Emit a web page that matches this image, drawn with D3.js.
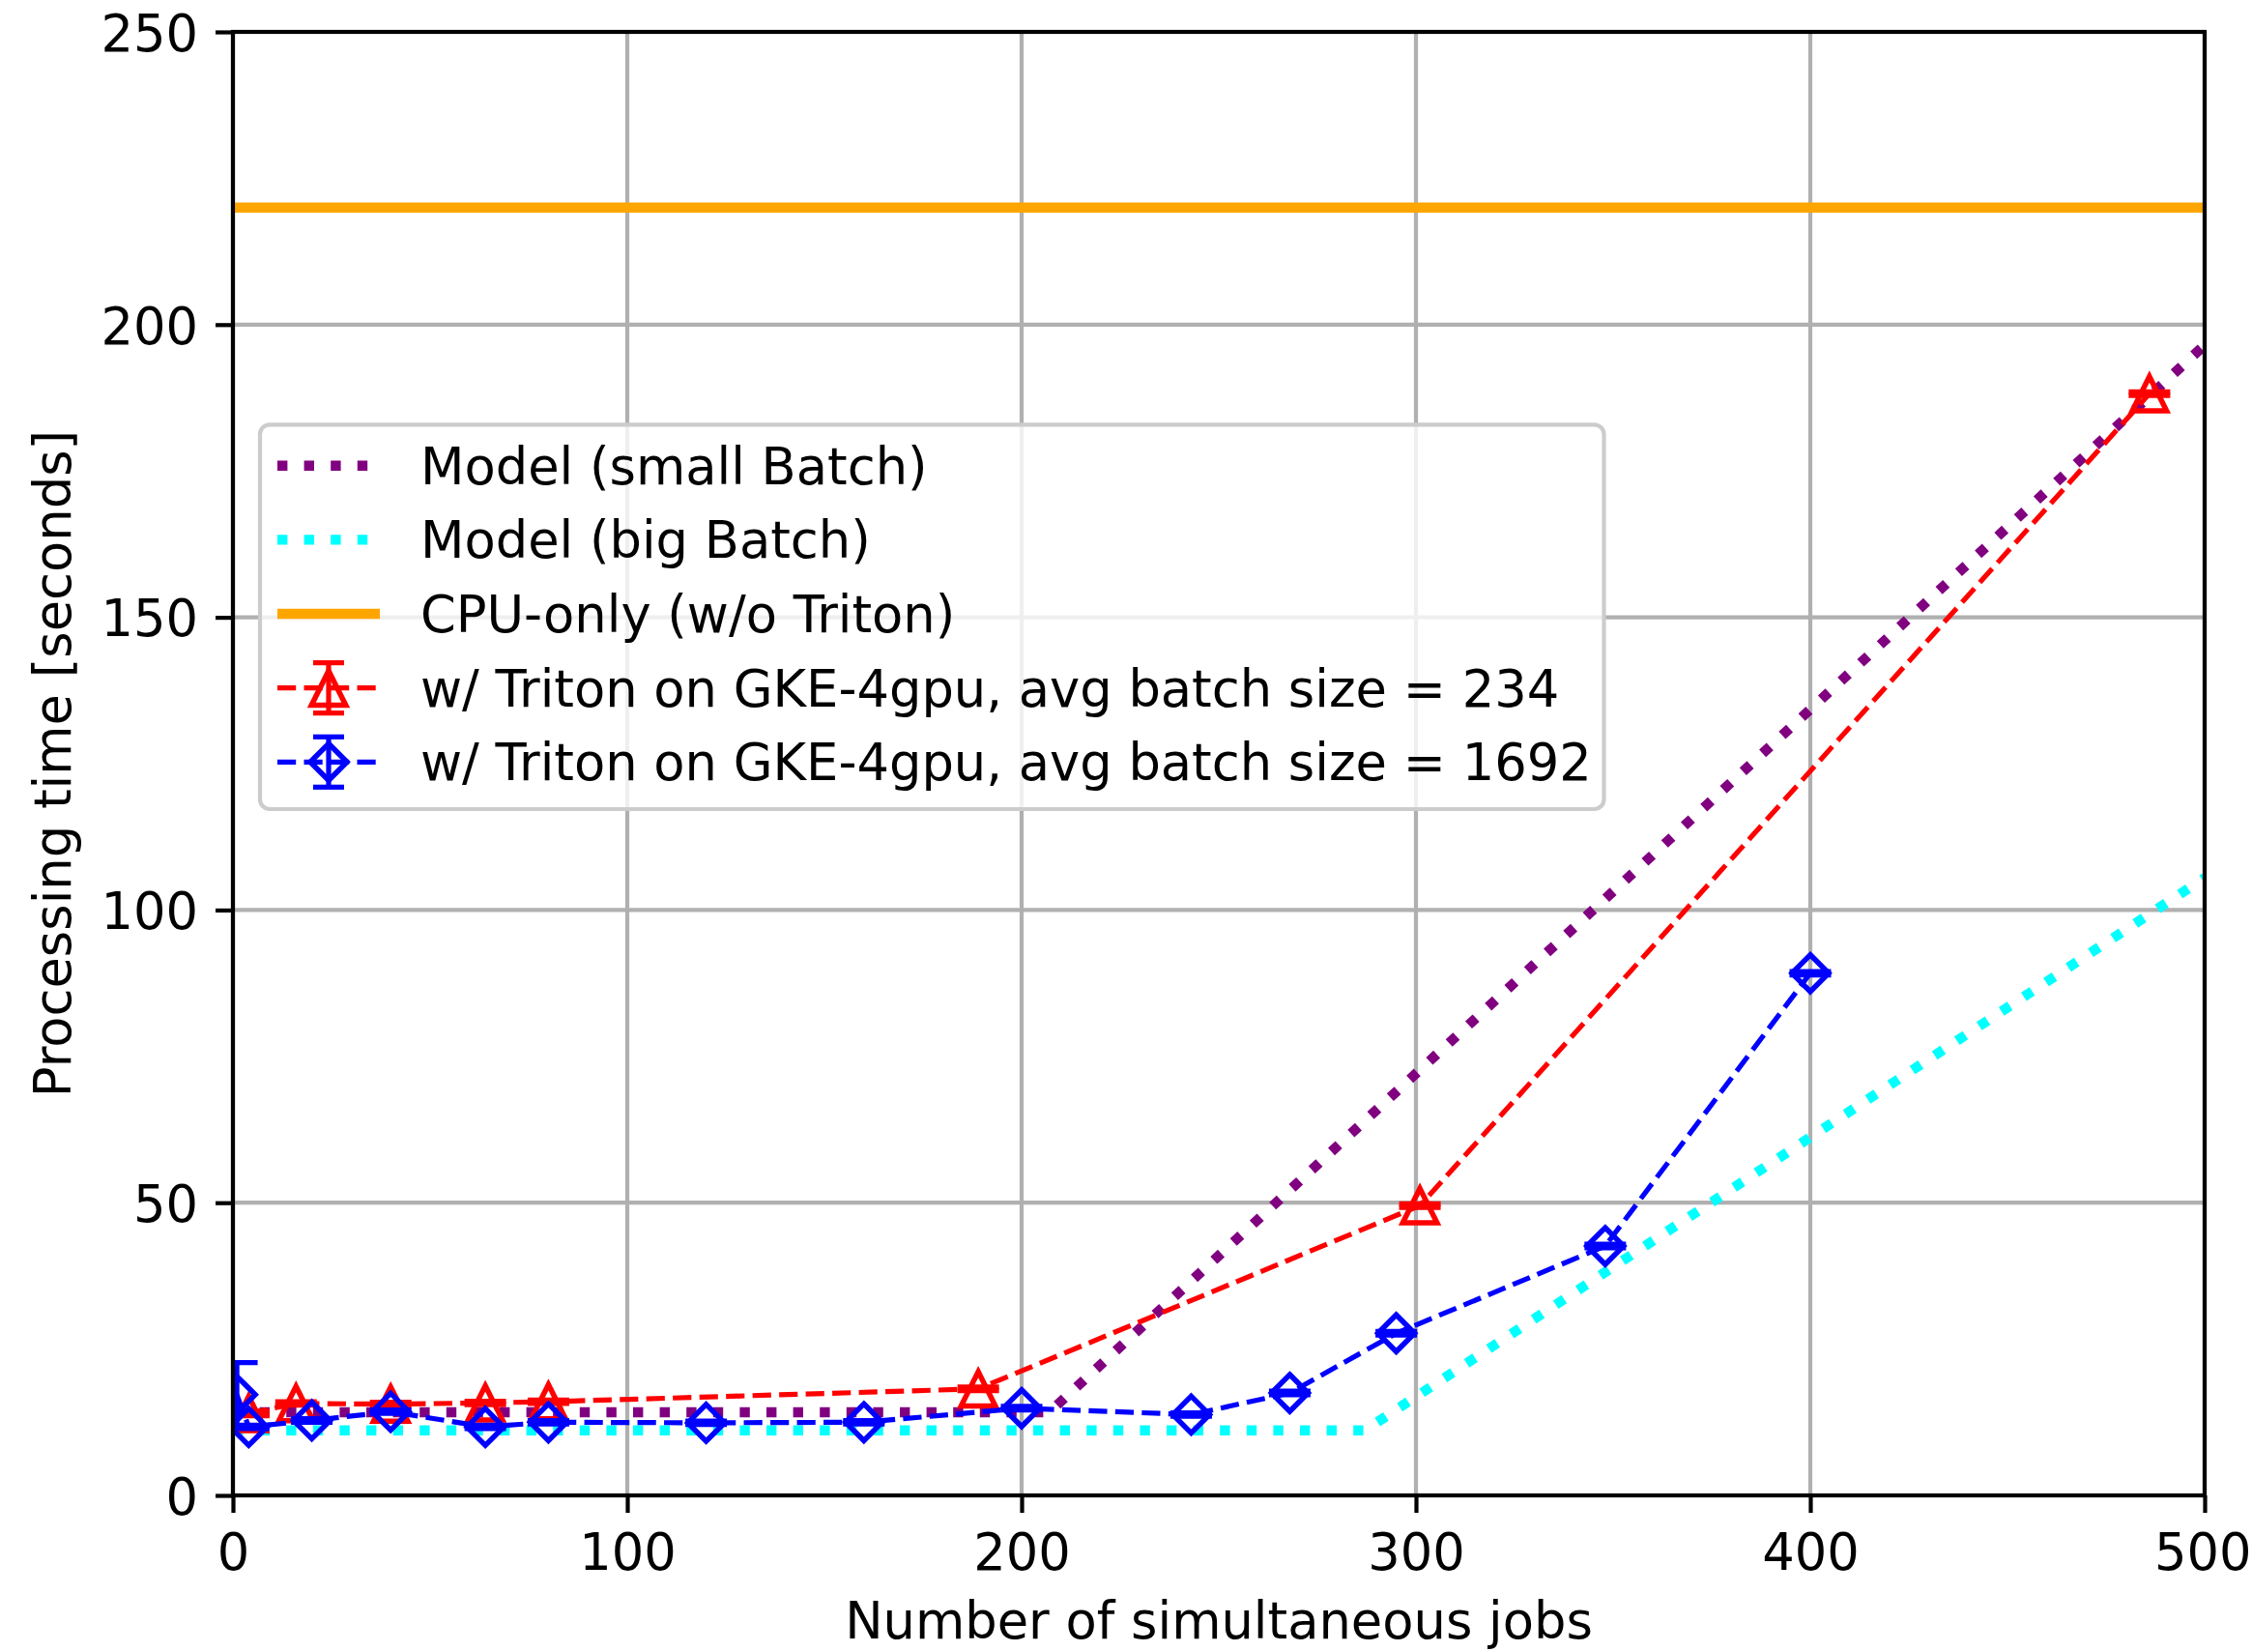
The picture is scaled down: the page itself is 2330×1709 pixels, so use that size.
<!DOCTYPE html>
<html>
<head>
<meta charset="utf-8">
<script src="https://cdn.jsdelivr.net/npm/d3@7"></script>
<style>
  html, body { margin: 0; padding: 0; background: #ffffff; }
  svg { display: block; }
  text { font-family: "DejaVu Sans", sans-serif; fill: #000; }
</style>
</head>
<body>
<svg id="chart" width="2330" height="1709"></svg>
<script>
// ---- data ----
const xTicks = [0, 100, 200, 300, 400, 500];
const yTicks = [0, 50, 100, 150, 200, 250];

// analytic models
const smallBatchJobs = [0, 207, 500];
const smallBatchTime = [14.2, 14.2, 196.5];
const bigBatchJobs = [0, 287, 500];
const bigBatchTime = [11.1, 11.1, 105.5];

// CPU-only baseline
const cpuOnlyJobs = [0, 500];
const cpuOnlyTime = [220, 220];

// measurements, avg batch size = 234
const gpu234Jobs = [4, 16, 40, 64, 80, 189, 301, 486];
const gpu234Time = [14.0, 15.7, 15.6, 15.8, 16.0, 18.2, 49.5, 188.2];
const gpu234Err  = [0.4, 0.3, 0.3, 0.3, 0.3, 0.3, 0.3, 0.3];

// measurements, avg batch size = 1692
const gpu1692Jobs = [1, 4, 20, 40, 64, 80, 120, 160, 200, 243, 268, 295, 348, 400];
const gpu1692Time = [17.2, 11.7, 12.8, 14.3, 11.7, 12.5, 12.4, 12.5, 14.9, 13.8, 17.5, 27.7, 42.6, 89.2];
const gpu1692Err  = [5.5, 0.3, 0.3, 0.3, 0.3, 0.3, 0.3, 0.3, 0.3, 0.3, 0.3, 0.3, 0.3, 0.3];

const legendLabels = [
  "Model (small Batch)",
  "Model (big Batch)",
  "CPU-only (w/o Triton)",
  "w/ Triton on GKE-4gpu, avg batch size = 234",
  "w/ Triton on GKE-4gpu, avg batch size = 1692"
];

// ---- layout ----
const FONT = 52.7;
const plot = { left: 241, top: 33, right: 2281, bottom: 1547 };
const svg = d3.select("#chart");

const x = d3.scaleLinear().domain([0, 500]).range([plot.left, plot.right]);
const y = d3.scaleLinear().domain([0, 250]).range([plot.bottom, plot.top]);

const zip = (xs, ys) => xs.map((v, i) => [v, ys[i]]);

// ---- grid ----
const grid = svg.append("g").attr("stroke", "#b0b0b0").attr("stroke-width", 4.2);
grid.selectAll("line.gx").data(xTicks).join("line")
  .attr("x1", d => x(d)).attr("x2", d => x(d))
  .attr("y1", plot.top).attr("y2", plot.bottom);
grid.selectAll("line.gy").data(yTicks).join("line")
  .attr("y1", d => y(d)).attr("y2", d => y(d))
  .attr("x1", plot.left).attr("x2", plot.right);

// ---- clip for data ----
svg.append("defs").append("clipPath").attr("id", "plotClip")
  .append("rect")
  .attr("x", plot.left).attr("y", plot.top)
  .attr("width", plot.right - plot.left).attr("height", plot.bottom - plot.top);

const data = svg.append("g").attr("clip-path", "url(#plotClip)");
const line = d3.line().x(d => x(d[0])).y(d => y(d[1]));

const DOT = "10.4,17.2";
const DASH = "19.2,8.3";

function modelLine(g, pts, color, dash, width) {
  g.append("path").datum(pts)
    .attr("d", line)
    .attr("fill", "none")
    .attr("stroke", color)
    .attr("stroke-width", width)
    .attr("stroke-dasharray", dash)
    .attr("stroke-linecap", "butt");
}

// marker shapes
const triPath = s => `M0,${-s / 2}L${s / 2},${s / 2}L${-s / 2},${s / 2}Z`;
const diaPath = s => `M0,${-s / 2}L${s / 2},0L0,${s / 2}L${-s / 2},0Z`;
const TRI = triPath(35.5);
const DIA = diaPath(38);

function errSeries(g, xs, ys, es, color, shape) {
  const pts = xs.map((v, i) => ({ x: v, y: ys[i], e: es[i] }));
  const cap = 43;
  const eb = g.append("g").attr("stroke", color).attr("stroke-width", 5.2);
  eb.selectAll("line.bar").data(pts).join("line")
    .attr("x1", d => x(d.x)).attr("x2", d => x(d.x))
    .attr("y1", d => y(d.y - d.e)).attr("y2", d => y(d.y + d.e));
  eb.selectAll("line.capTop").data(pts).join("line")
    .attr("x1", d => x(d.x) - cap / 2).attr("x2", d => x(d.x) + cap / 2)
    .attr("y1", d => y(d.y + d.e)).attr("y2", d => y(d.y + d.e));
  eb.selectAll("line.capBot").data(pts).join("line")
    .attr("class", "capBot")
    .attr("x1", d => x(d.x) - cap / 2).attr("x2", d => x(d.x) + cap / 2)
    .attr("y1", d => y(d.y - d.e)).attr("y2", d => y(d.y - d.e));
  g.append("path").datum(zip(xs, ys))
    .attr("d", line).attr("fill", "none")
    .attr("stroke", color).attr("stroke-width", 5.2)
    .attr("stroke-dasharray", DASH);
  g.append("g").selectAll("path").data(pts).join("path")
    .attr("transform", d => `translate(${x(d.x)},${y(d.y)})`)
    .attr("d", shape)
    .attr("fill", "none").attr("stroke", color)
    .attr("stroke-width", 5.5).attr("stroke-linejoin", "miter");
}

modelLine(data, zip(smallBatchJobs, smallBatchTime), "#800080", DOT, 10.4);
modelLine(data, zip(bigBatchJobs, bigBatchTime), "#00ffff", DOT, 10.4);
modelLine(data, zip(cpuOnlyJobs, cpuOnlyTime), "#ffa500", null, 10.4);
errSeries(data.append("g"), gpu234Jobs, gpu234Time, gpu234Err, "#ff0000", TRI);
errSeries(data.append("g"), gpu1692Jobs, gpu1692Time, gpu1692Err, "#0000ff", DIA);

// ---- axes ----
const xAxis = d3.axisBottom(x).tickValues(xTicks).tickSize(18).tickPadding(22).tickFormat(d3.format("d"));
const yAxis = d3.axisLeft(y).tickValues(yTicks).tickSize(18).tickPadding(18).tickFormat(d3.format("d"));

const gx = svg.append("g").attr("transform", `translate(0,${plot.bottom})`).call(xAxis);
const gy = svg.append("g").attr("transform", `translate(${plot.left},0)`).call(yAxis);
[gx, gy].forEach(g => {
  g.select(".domain").remove();
  g.selectAll(".tick line").attr("stroke", "#000").attr("stroke-width", 4.2);
  g.selectAll(".tick text").attr("font-size", FONT).attr("font-family", "DejaVu Sans").attr("fill", "#000");
});
gy.selectAll(".tick text").attr("dy", "0.365em");
// keep the last x label inside the canvas edge
gx.selectAll(".tick text").filter(d => d === 500)
  .attr("text-anchor", "end").attr("x", 2329 - plot.right);

// frame
svg.append("rect")
  .attr("x", plot.left).attr("y", plot.top)
  .attr("width", plot.right - plot.left).attr("height", plot.bottom - plot.top)
  .attr("fill", "none").attr("stroke", "#000").attr("stroke-width", 4.2);

// axis titles
svg.append("text")
  .attr("x", (plot.left + plot.right) / 2).attr("y", 1695)
  .attr("text-anchor", "middle").attr("font-size", FONT)
  .text("Number of simultaneous jobs");
svg.append("text")
  .attr("transform", `translate(73.3,${(plot.top + plot.bottom) / 2}) rotate(-90)`)
  .attr("text-anchor", "middle").attr("font-size", FONT)
  .text("Processing time [seconds]");

// ---- legend ----
const leg = svg.append("g");
leg.append("rect")
  .attr("x", 269).attr("y", 439.3).attr("width", 1390.5).attr("height", 397.7)
  .attr("rx", 10).attr("ry", 10)
  .attr("fill", "#ffffff").attr("fill-opacity", 0.8)
  .attr("stroke", "#cccccc").attr("stroke-width", 4.2);

const rowY = i => 481.7 + i * 76.65;
const hx0 = 287, hx1 = 393, hxm = (hx0 + hx1) / 2;
const legendStyles = [
  { color: "#800080", dash: DOT, width: 10.4 },
  { color: "#00ffff", dash: DOT, width: 10.4 },
  { color: "#ffa500", dash: null, width: 10.4 },
  { color: "#ff0000", dash: DASH, width: 5.2, marker: TRI },
  { color: "#0000ff", dash: DASH, width: 5.2, marker: DIA }
];

legendLabels.forEach((label, i) => {
  const st = legendStyles[i];
  const cy = rowY(i);
  const g = leg.append("g");
  if (st.marker) {
    g.append("line").attr("x1", hxm).attr("x2", hxm)
      .attr("y1", cy - 26).attr("y2", cy + 26)
      .attr("stroke", st.color).attr("stroke-width", 5.2);
    [cy - 26, cy + 26].forEach(cyCap => {
      g.append("line").attr("x1", hxm - 16).attr("x2", hxm + 16)
        .attr("y1", cyCap).attr("y2", cyCap)
        .attr("stroke", st.color).attr("stroke-width", 5.2);
    });
  }
  g.append("line").attr("x1", hx0).attr("x2", hx1).attr("y1", cy).attr("y2", cy)
    .attr("stroke", st.color).attr("stroke-width", st.width)
    .attr("stroke-dasharray", st.dash);
  if (st.marker) {
    g.append("path").attr("transform", `translate(${hxm},${cy})`)
      .attr("d", st.marker).attr("fill", "none")
      .attr("stroke", st.color).attr("stroke-width", 5.5);
  }
  g.append("text").attr("x", 435).attr("y", cy + 19)
    .attr("font-size", FONT).text(label);
});
</script>
</body>
</html>
